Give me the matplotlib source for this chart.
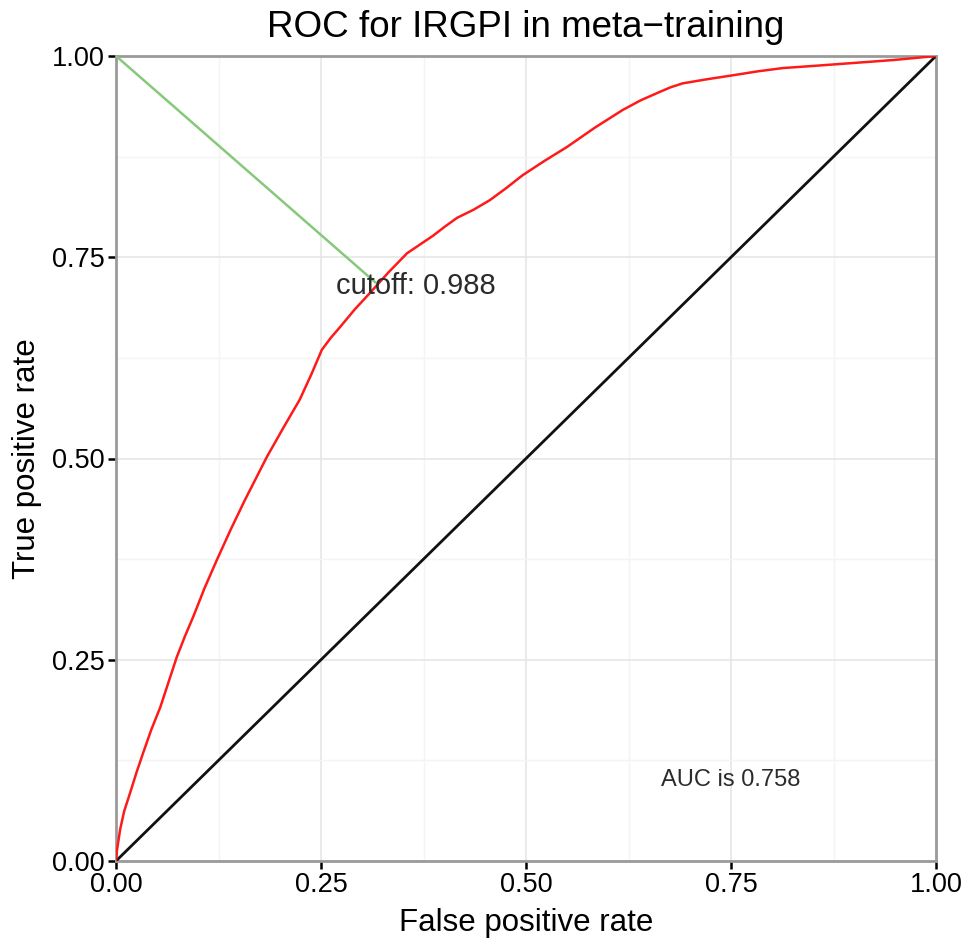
import numpy as np
import matplotlib
matplotlib.use('Agg')
import matplotlib.pyplot as plt

# ROC curve
fpr = [0.0, 0.001, 0.005, 0.010, 0.017, 0.025, 0.033, 0.043, 0.054, 0.064, 0.074,
       0.084, 0.094, 0.108, 0.123, 0.140, 0.157, 0.171, 0.184, 0.204, 0.224, 0.238,
       0.251, 0.262, 0.273, 0.291, 0.310, 0.333, 0.355, 0.371, 0.387, 0.401, 0.416,
       0.436, 0.456, 0.476, 0.496, 0.523, 0.550, 0.584, 0.618, 0.640, 0.660, 0.676,
       0.691, 0.720, 0.752, 0.783, 0.813, 0.855, 0.895, 0.948, 1.0]
tpr = [0.0, 0.012, 0.039, 0.062, 0.084, 0.110, 0.134, 0.163, 0.191, 0.222, 0.253,
       0.279, 0.303, 0.339, 0.374, 0.412, 0.448, 0.476, 0.502, 0.538, 0.573, 0.604,
       0.635, 0.650, 0.663, 0.685, 0.706, 0.732, 0.755, 0.766, 0.777, 0.788, 0.799,
       0.809, 0.821, 0.836, 0.852, 0.870, 0.887, 0.911, 0.933, 0.945, 0.954, 0.961,
       0.966, 0.971, 0.976, 0.981, 0.985, 0.988, 0.991, 0.995, 1.0]

cut_x, cut_y = 0.316, 0.719   # closest point to top-left
cutoff = 0.988
auc = 0.758

plt.rcParams['font.family'] = ['Liberation Sans', 'DejaVu Sans']

fig = plt.figure(figsize=(9.66, 9.41), dpi=100)
ax = fig.add_axes([116/966, 80/941, 820/966, 805/941])

ticks = [0, 0.25, 0.5, 0.75, 1.0]
ax.set_xticks(ticks)
ax.set_yticks(ticks)
ax.set_xticks(np.arange(0.125, 1, 0.25), minor=True)
ax.set_yticks(np.arange(0.125, 1, 0.25), minor=True)
ax.set_xticklabels(['%.2f' % t for t in ticks])
ax.set_yticklabels(['%.2f' % t for t in ticks])
ax.grid(which='major', color='#e6e6e6', lw=1.2, zorder=0)
ax.grid(which='minor', color='#f4f4f4', lw=1.0, zorder=0)
ax.tick_params(which='minor', length=0)
ax.tick_params(which='major', direction='out', length=6, width=1.8, color='black',
               labelsize=19.5, pad=2)
for s in ax.spines.values():
    s.set_color('#9a9a9a')
    s.set_linewidth(2)

ax.plot([0, 1], [0, 1], color='#111111', lw=2.0, zorder=3)
ax.plot(fpr, tpr, color='#ff1a1a', lw=1.8, zorder=4)
ax.plot([0, cut_x], [1, cut_y], color='#86c97a', lw=1.8, zorder=3)

ax.text(0.268, 0.714, 'cutoff: %.3f' % cutoff, fontsize=21, color='#2b2b2b',
        ha='left', va='center', zorder=5)
ax.text(0.75, 0.10, 'AUC is %.3f' % auc, fontsize=17, color='#2b2b2b',
        ha='center', va='center', zorder=5)

ax.set_xlim(0, 1)
ax.set_ylim(0, 1)
ax.set_xlabel('False positive rate', fontsize=22.5, labelpad=7)
ax.set_ylabel('True positive rate', fontsize=22.5, labelpad=7)
ax.set_title('ROC for IRGPI in meta\u2212training', fontsize=26.5, pad=14)

fig.savefig('out.png', dpi=100)
